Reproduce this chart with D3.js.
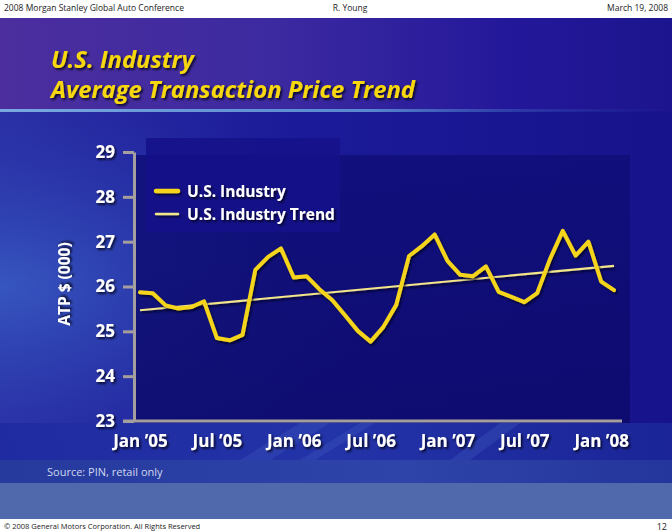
<!DOCTYPE html>
<html>
<head>
<meta charset="utf-8">
<script src="https://cdn.jsdelivr.net/npm/d3@7"></script>
<style>
  html, body { margin: 0; padding: 0; background: #fff; }
  svg { display: block; }
  text { font-family: "Open Sans", "Noto Sans", sans-serif; }
</style>
</head>
<body>
<svg id="chart" width="672" height="532"></svg>
<script>
// ---------- data ----------
const months = ["Jan 05","Feb 05","Mar 05","Apr 05","May 05","Jun 05","Jul 05","Aug 05","Sep 05","Oct 05","Nov 05","Dec 05",
                "Jan 06","Feb 06","Mar 06","Apr 06","May 06","Jun 06","Jul 06","Aug 06","Sep 06","Oct 06","Nov 06","Dec 06",
                "Jan 07","Feb 07","Mar 07","Apr 07","May 07","Jun 07","Jul 07","Aug 07","Sep 07","Oct 07","Nov 07","Dec 07",
                "Jan 08","Feb 08"];
const industry = [25.87,25.85,25.58,25.51,25.54,25.67,24.85,24.80,24.92,26.37,26.66,26.85,
                  26.20,26.23,25.94,25.70,25.36,25.01,24.77,25.10,25.59,26.68,26.90,27.16,
                  26.57,26.26,26.23,26.45,25.88,25.77,25.65,25.85,26.61,27.24,26.69,27.00,
                  26.11,25.92];
const trendIndex = [0, 37];
const trendValues = [25.47, 26.46];
const yTicks = [23,24,25,26,27,28,29];
const xTickIndex = [0,6,12,18,24,30,36];
const xTickLabels = ["Jan \u201905","Jul \u201905","Jan \u201906","Jul \u201906","Jan \u201907","Jul \u201907","Jan \u201908"];
const seriesNames = ["U.S. Industry","U.S. Industry Trend"];

const svg = d3.select("#chart");
const W = 672, H = 532;

// ---------- defs ----------
const defs = svg.append("defs");
const shadow = defs.append("filter").attr("id","shadow").attr("x","-20%").attr("y","-20%").attr("width","140%").attr("height","160%");
shadow.append("feDropShadow").attr("dx",1.6).attr("dy",1.8).attr("stdDeviation",0.9).attr("flood-color","#000010").attr("flood-opacity",0.85);
const lshadow = defs.append("filter").attr("id","lshadow").attr("filterUnits","userSpaceOnUse")
  .attr("x",0).attr("y",0).attr("width",W).attr("height",H);
lshadow.append("feDropShadow").attr("dx",1.5).attr("dy",2).attr("stdDeviation",1.2).attr("flood-color","#000020").attr("flood-opacity",0.8);

function lin(id, stops, x2="100%", y2="0%") {
  const g = defs.append("linearGradient").attr("id",id).attr("x1","0%").attr("y1","0%").attr("x2",x2).attr("y2",y2);
  stops.forEach(s => g.append("stop").attr("offset",s[0]).attr("stop-color",s[1]).attr("stop-opacity", s[2]===undefined?1:s[2]));
}
function rad(id, cx, cy, r, stops) {
  const g = defs.append("radialGradient").attr("id",id).attr("cx",cx).attr("cy",cy).attr("r",r);
  stops.forEach(s => g.append("stop").attr("offset",s[0]).attr("stop-color",s[1]).attr("stop-opacity", s[2]===undefined?1:s[2]));
}
lin("slideBg", [["0%","#2a2ea4"],["45%","#1b1a98"],["100%","#17138c"]]);
lin("titleBg", [["0%","#4c2e9e"],["40%","#3c2aa0"],["75%","#24189a"],["100%","#1c148e"]]);
lin("titleLine", [["0%","#7aa8e0"],["55%","#5a88d0"],["75%","#3a5ab8",0.6],["100%","#2a3aa8",0]]);
rad("leftGlow", "0%", "50%", "55%", [["0%","#3a60c6",0.8],["100%","#2a40b0",0]]);
lin("bottomBg", [["0%","#1e2aa0",0.9],["50%","#2436aa",0.9],["100%","#1a2698",0.9]]);
lin("sourceBg", [["0%","#263a9e"],["60%","#2e44a8"],["100%","#24359c"]]);
lin("panelBg", [["0%","#0f0e78"],["100%","#0c0a6a"]], "0%", "100%");

// ---------- background ----------
svg.append("rect").attr("width",W).attr("height",H).attr("fill","#fff");
svg.append("rect").attr("x",0).attr("y",18).attr("width",W).attr("height",465).attr("fill","url(#slideBg)");
svg.append("rect").attr("x",0).attr("y",112).attr("width",W).attr("height",348).attr("fill","url(#leftGlow)");
svg.append("rect").attr("x",0).attr("y",18).attr("width",W).attr("height",93).attr("fill","url(#titleBg)");
svg.append("rect").attr("x",0).attr("y",109).attr("width",W).attr("height",3).attr("fill","url(#titleLine)");
// plot panel
svg.append("rect").attr("x",133).attr("y",155).attr("width",497).attr("height",268).attr("fill","url(#panelBg)").attr("opacity",0.85);
svg.append("rect").attr("x",146).attr("y",138).attr("width",194).attr("height",94).attr("fill","#15128a").attr("opacity",0.9);
// bottom region
svg.append("rect").attr("x",0).attr("y",423).attr("width",W).attr("height",37).attr("fill","url(#bottomBg)");
const streaks = [[[240,460],[300,423],[330,423],[270,460]],[[300,460],[360,423],[375,423],[315,460]],[[450,460],[500,423],[520,423],[470,460]]];
svg.append("g").selectAll("polygon").data(streaks).join("polygon")
  .attr("points", d => d.map(p => p.join(",")).join(" "))
  .attr("fill","#4a68c8").attr("opacity",0.25);
svg.append("rect").attr("x",0).attr("y",460).attr("width",W).attr("height",23).attr("fill","url(#sourceBg)");
svg.append("rect").attr("x",0).attr("y",483).attr("width",W).attr("height",36).attr("fill","#5069ad");
svg.append("rect").attr("x",0).attr("y",519).attr("width",W).attr("height",13).attr("fill","#fff");

// ---------- header / footer text ----------
const small = svg.append("g").attr("fill","#222").style("font-size","8.5px");
small.append("text").attr("x",4).attr("y",11).text("2008 Morgan Stanley Global Auto Conference");
small.append("text").attr("x",350).attr("y",11).attr("text-anchor","middle").text("R. Young");
small.append("text").attr("x",668).attr("y",11).attr("text-anchor","end").text("March 19, 2008");
small.append("text").attr("x",4).attr("y",529).style("font-size","7.5px").text("\u00a9 2008 General Motors Corporation. All Rights Reserved");
small.append("text").attr("x",667).attr("y",530).attr("text-anchor","end").style("font-size","9px").text("12");

// ---------- title ----------
const title = svg.append("g").attr("fill","#f7d708").attr("filter","url(#shadow)")
  .style("font-size","23px").style("font-weight","700").style("font-style","italic");
title.append("text").attr("x",51).attr("y",68).attr("textLength",143).attr("lengthAdjust","spacingAndGlyphs").text("U.S. Industry");
title.append("text").attr("x",51).attr("y",98).attr("textLength",364).attr("lengthAdjust","spacingAndGlyphs").text("Average Transaction Price Trend");

// source
svg.append("text").attr("x",47).attr("y",476).attr("fill","#d0d8f0").style("font-size","11px").text("Source: PIN, retail only");

// ---------- scales ----------
const x = d3.scaleLinear().domain([0, months.length - 1]).range([140, 614]);
const y = d3.scaleLinear().domain([23, 29]).range([421, 152]);

// ---------- axes ----------
const axisColor = "#a59e9e";
const yAxis = svg.append("g").attr("transform","translate(134,0)")
  .call(d3.axisLeft(y).tickValues(yTicks).tickFormat(d3.format("d")).tickSize(11).tickSizeOuter(0).tickPadding(8));
yAxis.select(".domain").attr("stroke",axisColor).attr("stroke-width",3);
yAxis.selectAll(".tick line").attr("stroke",axisColor).attr("stroke-width",3);
yAxis.selectAll(".tick text").attr("fill","#fff").attr("filter","url(#shadow)")
  .style("font-size","17px").style("font-weight","700").style("font-family","'Open Sans', sans-serif");

// baseline
svg.append("line").attr("x1",123).attr("x2",622).attr("y1",y(23)).attr("y2",y(23))
  .attr("stroke",axisColor).attr("stroke-width",3);

const xAxis = svg.append("g").attr("transform",`translate(0,${y(23)})`)
  .call(d3.axisBottom(x).tickValues(xTickIndex).tickFormat((d,i) => xTickLabels[i]).tickSize(0).tickPadding(14));
xAxis.select(".domain").remove();
xAxis.selectAll(".tick text").attr("fill","#fff").attr("filter","url(#shadow)")
  .style("font-size","17px").style("font-weight","700").style("font-family","'Open Sans', sans-serif");

// axis title
svg.append("text").attr("transform","translate(70,284) rotate(-90)").attr("text-anchor","middle")
  .attr("fill","#fff").attr("filter","url(#shadow)").style("font-size","15.5px").style("font-weight","700")
  .text("ATP $ (000)");

// ---------- lines ----------
const line = d3.line().x((d,i) => x(i)).y(d => y(d)).curve(d3.curveLinear);
svg.append("path").datum(trendValues)
  .attr("d", d3.line().x((d,i) => x(trendIndex[i])).y(d => y(d)))
  .attr("fill","none").attr("stroke","#f2e58a").attr("stroke-width",2.2).attr("filter","url(#lshadow)");
svg.append("path").datum(industry).attr("d", line)
  .attr("fill","none").attr("stroke","#f5d51c").attr("stroke-width",4).attr("stroke-linejoin","round")
  .attr("stroke-linecap","round").attr("filter","url(#lshadow)");

// ---------- legend ----------
const legend = svg.append("g");
const legRows = [{y:191, w:4.5, c:"#f5d51c"}, {y:214, w:2.5, c:"#f2e58a"}];
legend.selectAll("line").data(legRows).join("line")
  .attr("x1",156).attr("x2",178).attr("y1",d=>d.y).attr("y2",d=>d.y)
  .attr("stroke",d=>d.c).attr("stroke-width",d=>d.w).attr("stroke-linecap","round").attr("filter","url(#lshadow)");
legend.selectAll("text").data(seriesNames).join("text")
  .attr("x",187).attr("y",(d,i)=>legRows[i].y + 6).attr("fill","#fff").attr("filter","url(#shadow)")
  .style("font-size","15.5px").style("font-weight","700").text(d=>d);
</script>
</body>
</html>
